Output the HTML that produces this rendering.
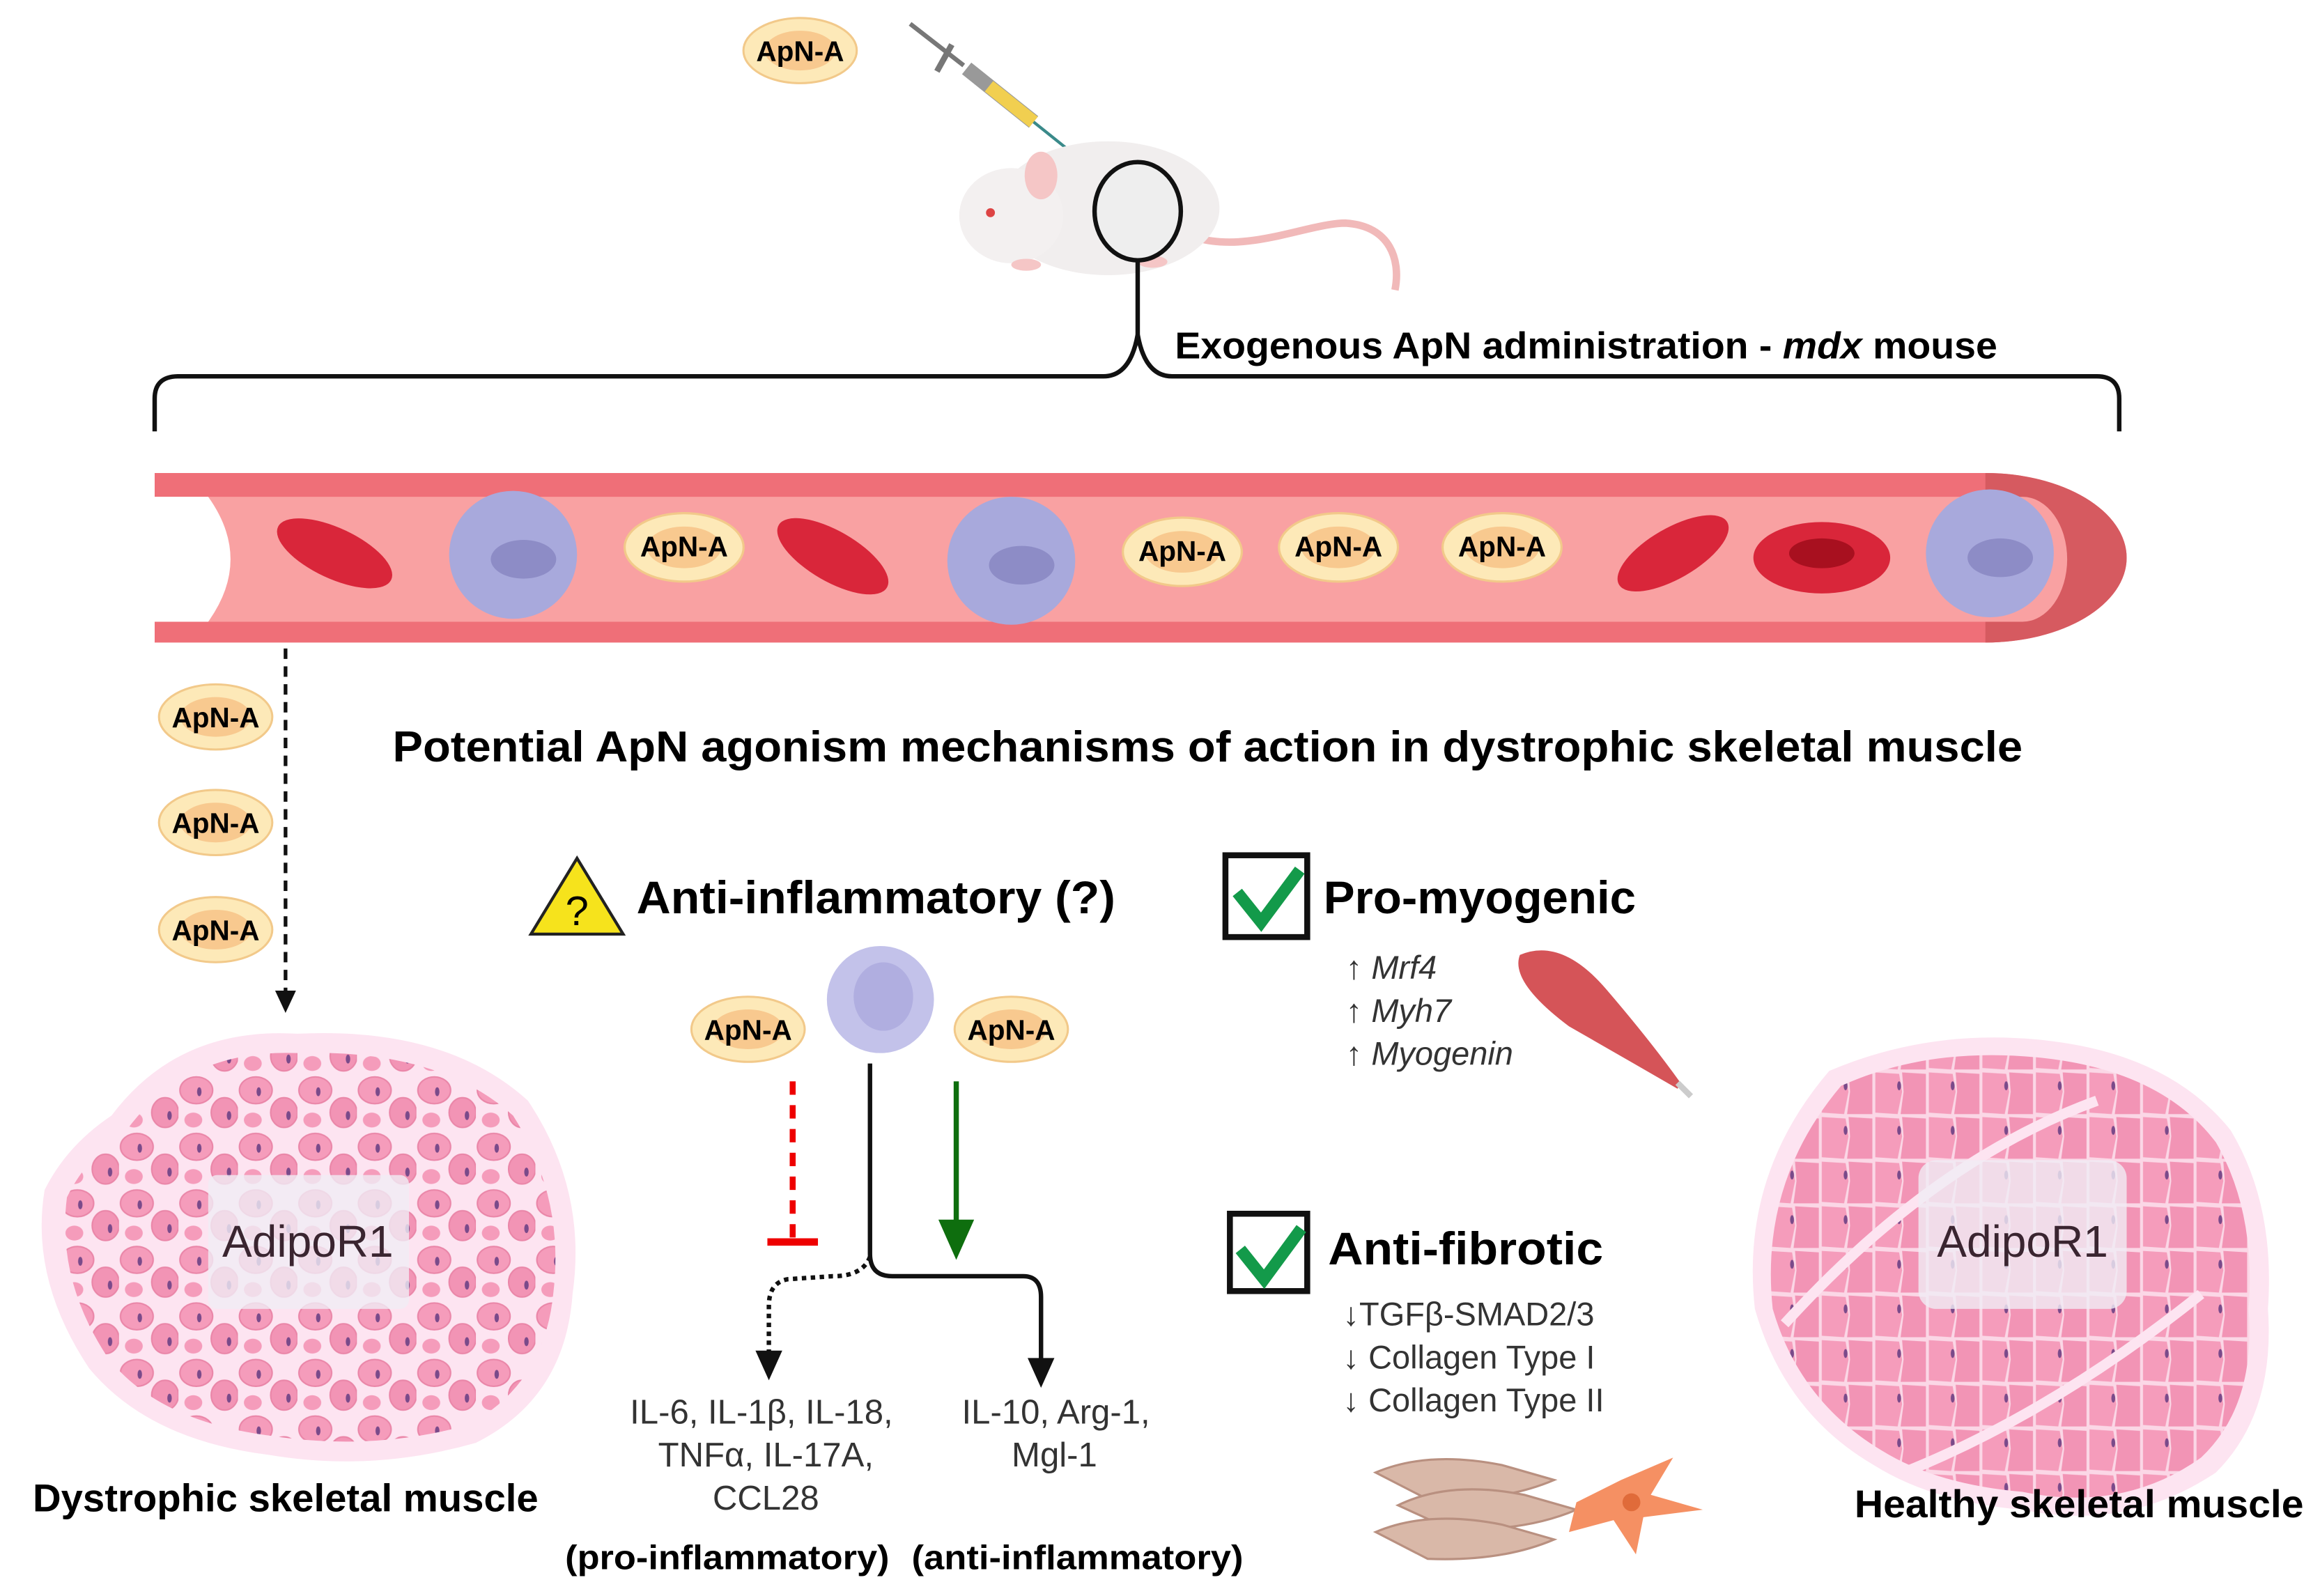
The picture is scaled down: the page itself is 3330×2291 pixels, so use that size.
<!DOCTYPE html>
<html><head><meta charset="utf-8"><style>
html,body{margin:0;padding:0;background:#fff;width:3330px;height:2291px;overflow:hidden}
svg{display:block}
text{font-family:"Liberation Sans",sans-serif}
</style></head><body>
<svg width="3330" height="2291" viewBox="0 0 1560 1073" preserveAspectRatio="none" xmlns="http://www.w3.org/2000/svg">
<defs>
<symbol id="apn" viewBox="-42 -25 84 50" overflow="visible">
<ellipse cx="0" cy="0" rx="40" ry="23" fill="#fde9b8" stroke="#f2c98a" stroke-width="1.5"/>
<ellipse cx="0" cy="0" rx="25" ry="14" fill="#f8c98f"/>
</symbol>
<pattern id="dys" width="40" height="38" patternUnits="userSpaceOnUse">
<rect width="40" height="38" fill="#fde4f1"/>
<ellipse cx="12" cy="11" rx="11" ry="9" fill="#f59cbb" stroke="#ea86a8"/>
<ellipse cx="31" cy="26" rx="9" ry="10" fill="#f294b5" stroke="#ea86a8"/>
<ellipse cx="10" cy="31" rx="6" ry="5" fill="#f59cbb"/>
<ellipse cx="14" cy="12" rx="1.5" ry="3" fill="#7a4a8a"/>
<ellipse cx="34" cy="28" rx="1.5" ry="3" fill="#7a4a8a"/>
</pattern>
<pattern id="hea" width="36" height="30" patternUnits="userSpaceOnUse">
<rect width="36" height="30" fill="#fbd7e6"/>
<polygon points="1,1 17,2 19,14 16,29 1,28" fill="#f59cbb"/>
<polygon points="19,1 35,2 35,14 35,29 18,29 20,14" fill="#f294b5"/>
<ellipse cx="17" cy="10" rx="1.3" ry="3" fill="#7a4a8a"/>
</pattern>
</defs>

<use href="#apn" x="498" y="9" width="80" height="50"/>
<text x="538" y="41" font-size="19" font-weight="bold" text-anchor="middle">ApN-A</text>
<line x1="612" y1="16" x2="648" y2="44" stroke="#777" stroke-width="3"/>
<line x1="640" y1="30" x2="630" y2="48" stroke="#777" stroke-width="4"/>
<line x1="650" y1="46" x2="695" y2="82" stroke="#999" stroke-width="10"/>
<line x1="665" y1="58" x2="695" y2="82" stroke="#f1cf50" stroke-width="9"/>
<line x1="695" y1="82" x2="720" y2="102" stroke="#3a8a8a" stroke-width="2"/>
<circle cx="721" cy="103" r="3" fill="#f55"/>
<path d="M805,160 C840,170 880,150 905,150 C935,152 942,175 938,195" fill="none" stroke="#f1b9b9" stroke-width="5"/>
<ellipse cx="745" cy="140" rx="75" ry="45" fill="#f1eeee"/>
<ellipse cx="680" cy="145" rx="35" ry="32" fill="#f3f0f0"/>
<ellipse cx="700" cy="118" rx="11" ry="16" fill="#f5c6c6"/>
<circle cx="666" cy="143" r="3" fill="#d44"/>
<ellipse cx="690" cy="178" rx="10" ry="4" fill="#f5c6c6"/>
<ellipse cx="775" cy="176" rx="10" ry="4" fill="#f5c6c6"/>
<ellipse cx="765" cy="142" rx="29" ry="33" fill="#eee" stroke="#111" stroke-width="3"/>
<path d="M104,290 L104,268 Q104,253 120,253 L742,253 Q760,253 765,225 Q770,253 788,253 L1410,253 Q1425,253 1425,268 L1425,290" fill="none" stroke="#111" stroke-width="3"/>
<line x1="765" y1="175" x2="765" y2="225" stroke="#111" stroke-width="3"/>
<text x="790" y="241" font-size="25" font-weight="bold" textLength="553" lengthAdjust="spacingAndGlyphs">Exogenous ApN administration - <tspan font-style="italic">mdx</tspan> mouse</text>
<path d="M104,318 L1335,318 A95,57 0 0 1 1335,432 L104,432 Z" fill="#ef6f78"/>
<path d="M1335,318 A95,57 0 0 1 1335,432 Z" fill="#d65a60"/>
<path d="M104,334 L1360,334 A30,42 0 0 1 1360,418 L104,418 Z" fill="#f9a1a2"/>
<path d="M104,334 L140,334 Q170,376 140,418 L104,418 Z" fill="#fff"/>
<g>
<ellipse cx="225" cy="372" rx="42" ry="17" transform="rotate(25 225 372)" fill="#d9263a"/>
<ellipse cx="560" cy="374" rx="42" ry="17" transform="rotate(30 560 374)" fill="#d9263a"/>
<ellipse cx="1125" cy="372" rx="42" ry="17" transform="rotate(-30 1125 372)" fill="#d9263a"/>
<ellipse cx="1225" cy="375" rx="46" ry="24" fill="#d9263a"/>
<ellipse cx="1225" cy="372" rx="22" ry="10" fill="#a8101f"/>
<circle cx="345" cy="373" r="43" fill="#a8a9dc"/><ellipse cx="352" cy="376" rx="22" ry="13" fill="#8d8cc6"/>
<circle cx="680" cy="377" r="43" fill="#a8a9dc"/><ellipse cx="687" cy="380" rx="22" ry="13" fill="#8d8cc6"/>
<circle cx="1338" cy="372" r="43" fill="#a8a9dc"/><ellipse cx="1345" cy="375" rx="22" ry="13" fill="#8d8cc6"/>
</g>
<g font-size="19" font-weight="bold" text-anchor="middle">
<use href="#apn" x="418" y="343" width="84" height="50"/><text x="460" y="374">ApN-A</text>
<use href="#apn" x="753" y="346" width="84" height="50"/><text x="795" y="377">ApN-A</text>
<use href="#apn" x="858" y="343" width="84" height="50"/><text x="900" y="374">ApN-A</text>
<use href="#apn" x="968" y="343" width="84" height="50"/><text x="1010" y="374">ApN-A</text>
<use href="#apn" x="105" y="457" width="80" height="50"/><text x="145" y="489">ApN-A</text>
<use href="#apn" x="105" y="528" width="80" height="50"/><text x="145" y="560">ApN-A</text>
<use href="#apn" x="105" y="600" width="80" height="50"/><text x="145" y="632">ApN-A</text>
<use href="#apn" x="463" y="667" width="80" height="50"/><text x="503" y="699">ApN-A</text>
<use href="#apn" x="640" y="667" width="80" height="50"/><text x="680" y="699">ApN-A</text>
</g>
<line x1="192" y1="436" x2="192" y2="668" stroke="#111" stroke-width="2.5" stroke-dasharray="7,5"/>
<polygon points="185,666 199,666 192,681" fill="#111"/>
<text x="264" y="512" font-size="29" font-weight="bold" textLength="1096" lengthAdjust="spacingAndGlyphs">Potential ApN agonism mechanisms of action in dystrophic skeletal muscle</text>

<polygon points="388,577 419,628 357,628" fill="#f6e31c" stroke="#222" stroke-width="2"/>
<text x="388" y="622" font-size="28" text-anchor="middle">?</text>
<text x="428" y="614" font-size="31" font-weight="bold" textLength="322" lengthAdjust="spacingAndGlyphs">Anti-inflammatory (?)</text>
<circle cx="592" cy="672" r="36" fill="#c3c2ea"/><ellipse cx="594" cy="670" rx="20" ry="23" fill="#b0aee0"/>
<line x1="533" y1="727" x2="533" y2="832" stroke="#e00" stroke-width="4" stroke-dasharray="9,7"/>
<line x1="516" y1="835" x2="550" y2="835" stroke="#e00" stroke-width="5"/>
<path d="M585,715 L585,843 Q585,858 600,858 L688,858 Q700,858 700,872 L700,915" fill="none" stroke="#111" stroke-width="3"/>
<polygon points="691,913 709,913 700,933" fill="#111"/>
<path d="M585,845 Q580,858 560,858 L530,860 Q517,862 517,878 L517,910" fill="none" stroke="#111" stroke-width="3" stroke-dasharray="3,3"/>
<polygon points="508,908 526,908 517,928" fill="#111"/>
<line x1="643" y1="727" x2="643" y2="822" stroke="#0e6e0e" stroke-width="3.5"/>
<polygon points="631,820 655,820 643,847" fill="#0e6e0e"/>
<g font-size="23" fill="#333" text-anchor="middle">
<text x="512" y="957">IL-6, IL-1β, IL-18,</text>
<text x="515" y="986">TNFα, IL-17A,</text>
<text x="515" y="1015">CCL28</text>
<text x="710" y="957">IL-10, Arg-1,</text>
<text x="709" y="986">Mgl-1</text>
</g>
<text x="380" y="1055" font-size="23" font-weight="bold" textLength="218" lengthAdjust="spacingAndGlyphs">(pro-inflammatory)</text>
<text x="613" y="1055" font-size="23" font-weight="bold" textLength="223" lengthAdjust="spacingAndGlyphs">(anti-inflammatory)</text>

<rect x="824" y="575" width="55" height="55" fill="#fff" stroke="#111" stroke-width="4"/>
<path d="M832,600 L848,620 L874,585" fill="none" stroke="#139a4a" stroke-width="8"/>
<text x="890" y="614" font-size="31" font-weight="bold" textLength="210" lengthAdjust="spacingAndGlyphs">Pro-myogenic</text>
<g font-size="22" fill="#333" font-style="italic">
<text x="905" y="658">↑ Mrf4</text>
<text x="905" y="687">↑ Myh7</text>
<text x="905" y="716">↑ Myogenin</text>
</g>
<path d="M1022,642 Q1050,630 1080,665 Q1110,700 1130,728 L1128,732 Q1090,710 1055,690 Q1015,660 1022,642 Z" fill="#d55458"/>
<line x1="1128" y1="728" x2="1137" y2="737" stroke="#ccc" stroke-width="4"/>

<rect x="827" y="816" width="52" height="52" fill="#fff" stroke="#111" stroke-width="4"/>
<path d="M834,840 L850,860 L875,826" fill="none" stroke="#139a4a" stroke-width="8"/>
<text x="893" y="850" font-size="31" font-weight="bold" textLength="185" lengthAdjust="spacingAndGlyphs">Anti-fibrotic</text>
<g font-size="22" fill="#333">
<text x="903" y="891">↓TGFβ-SMAD2/3</text>
<text x="903" y="920">↓ Collagen Type I</text>
<text x="903" y="949">↓ Collagen Type II</text>
</g>
<g fill="#d9b8a8" stroke="#b99080" stroke-width="1.5">
<path d="M925,990 Q960,975 1010,985 L1045,995 Q1010,1010 960,1008 Z"/>
<path d="M940,1012 Q975,995 1025,1005 L1060,1015 Q1025,1030 975,1028 Z"/>
<path d="M925,1030 Q960,1015 1010,1025 L1045,1035 Q1010,1050 960,1048 Z"/>
</g>
<path d="M1060,1010 L1090,995 L1125,980 L1110,1005 L1145,1015 L1105,1020 L1100,1045 L1085,1022 L1055,1030 Z" fill="#f59063"/>
<circle cx="1097" cy="1010" r="6" fill="#e06b3a"/>

<path d="M75,750 Q120,690 200,695 Q300,690 355,740 Q395,800 385,870 Q380,940 320,970 Q250,990 180,978 Q100,968 60,920 Q20,860 30,800 Q45,770 75,750 Z" fill="#fde4f1"/>
<path d="M85,760 Q125,705 200,708 Q295,705 345,750 Q380,805 372,870 Q366,930 315,958 Q250,976 180,965 Q105,955 72,912 Q38,860 45,805 Q58,778 85,760 Z" fill="url(#dys)"/>
<rect x="140" y="790" width="135" height="90" rx="6" fill="#f0ecf5" opacity="0.8"/>
<text x="207" y="845" font-size="30" fill="#3a2530" text-anchor="middle">AdipoR1</text>
<text x="22" y="1016" font-size="26" font-weight="bold" textLength="340" lengthAdjust="spacingAndGlyphs">Dystrophic skeletal muscle</text>

<path d="M1230,720 Q1300,690 1380,700 Q1460,710 1500,760 Q1530,810 1525,880 Q1530,950 1490,990 Q1430,1030 1360,1015 Q1300,1010 1260,985 Q1200,950 1180,880 Q1170,790 1230,720 Z" fill="#fde4f1"/>
<path d="M1238,730 Q1300,702 1380,712 Q1455,722 1490,768 Q1517,815 1512,880 Q1517,945 1480,980 Q1428,1017 1360,1003 Q1302,998 1265,975 Q1210,942 1192,880 Q1183,795 1238,730 Z" fill="url(#hea)"/>
<path d="M1200,890 Q1300,780 1410,740" fill="none" stroke="#fde4f1" stroke-width="7"/>
<path d="M1280,990 Q1380,950 1480,870" fill="none" stroke="#fde4f1" stroke-width="7"/>
<rect x="1290" y="780" width="140" height="100" rx="12" fill="#f0ecf5" opacity="0.8"/>
<text x="1360" y="845" font-size="30" fill="#3a2530" text-anchor="middle">AdipoR1</text>
<text x="1247" y="1020" font-size="26" font-weight="bold" textLength="302" lengthAdjust="spacingAndGlyphs">Healthy skeletal muscle</text>
</svg>
</body></html>
